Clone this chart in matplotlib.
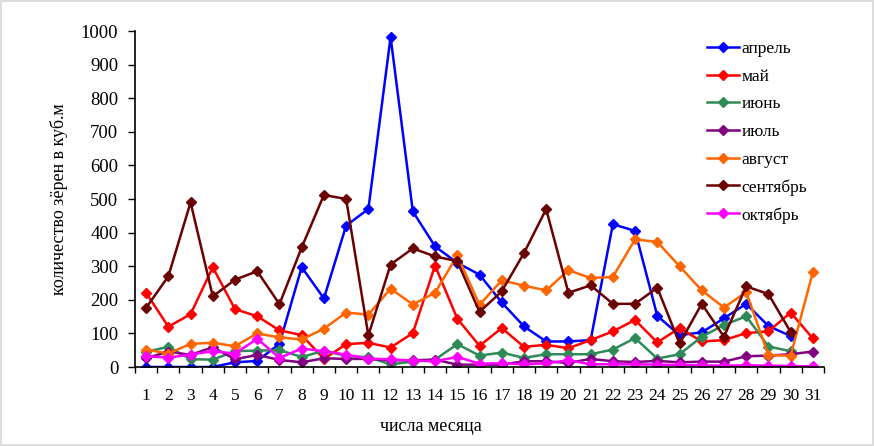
import numpy as np
import matplotlib
matplotlib.use('Agg')
import matplotlib.pyplot as plt

# days of month
days = list(range(1, 32))

# values (NaN = no point that day)
nan = np.nan
april = [0, 0, 0, 0, 14, 18, 69, 297, 204, 421, 470, 982, 463, 359, 310, 275,
         192, 121, 76, 76, 80, 425, 405, 152, 95, 103, 145, 188, 122, 92, nan]
may = [221, 120, 157, 297, 172, 151, 109, 95, 24, 68, 72, 58, 101, 302, 144, 63,
       116, 60, 66, 56, 80, 106, 140, 73, 116, 76, 80, 101, 106, 162, 85]
june = [45, 60, 23, 22, 47, 49, 50, 30, 48, 33, 29, 8, 16, 22, 68, 34,
        43, 27, 38, 38, 38, 52, 86, 25, 38, 90, 125, 151, 61, 47, nan]
july = [26, 46, 36, 59, 23, 36, 21, 14, 26, 24, 24, 20, 20, 22, 7, 7,
        7, 17, 17, 12, 24, 17, 15, 18, 14, 16, 16, 32, 34, 38, 46]
august = [52, 40, 69, 72, 62, 100, 88, 82, 114, 162, 156, 233, 186, 221, 332, 185,
          258, 242, 228, 288, 265, 268, 380, 372, 300, 228, 177, 223, 35, 34, 283]
september = [176, 270, 490, 210, 260, 285, 187, 356, 512, 500, 94, 305, 353, 329, 315, 164,
             225, 339, 470, 221, 243, 188, 188, 236, 70, 188, 90, 240, 217, 104, nan]
october = [32, 28, 37, 47, 40, 84, 27, 55, 47, 37, 25, 23, 19, 17, 30, 10,
           11, 8, 11, 20, 8, 8, 8, 7, 6, 5, 4, 5, 4, 3, 2]

series = [
  ('апрель', april, '#0000FF'),
  ('май', may, '#FF0000'),
  ('июнь', june, '#2E8B57'),
  ('июль', july, '#800080'),
  ('август', august, '#FF6600'),
  ('сентябрь', september, '#6B0000'),
  ('октябрь', october, '#FF00FF'),
]

plt.rcParams['font.family'] = ['Liberation Serif', 'DejaVu Serif']

fig = plt.figure(figsize=(8.74, 4.46), dpi=100)
ax = fig.add_axes([135/874, 1 - 367/446, (824 - 135)/874, (367 - 31)/446])

for name, vals, color in series:
  ax.plot(days, vals, color=color, lw=1.8, marker='D', ms=5.2,
          mec=color, mfc=color, label=name)

ax.set_xlim(0.5, 31.5)
ax.set_ylim(0, 1000)
ax.set_yticks(range(0, 1001, 100))
ax.set_xticks(days)
ax.set_xticks(np.arange(0.5, 32, 1), minor=True)
ax.tick_params(axis='x', which='major', length=0, pad=15, labelsize=12.5)
ax.tick_params(axis='x', which='minor', length=4, direction='out', width=1)
ax.tick_params(axis='y', length=5, direction='out', width=1, labelsize=13.5, pad=7)
for side in ['top', 'right']:
  ax.spines[side].set_visible(False)
ax.spines['left'].set_linewidth(1.2)
ax.spines['bottom'].set_linewidth(1.2)

ax.set_ylabel('количество зёрен в куб.м', fontsize=13)
ax.set_xlabel('числа месяца', fontsize=13)
ax.yaxis.set_label_coords(-0.097, 0.5)
ax.xaxis.set_label_coords(0.43, -0.152)

ax.legend(loc='upper left', bbox_to_anchor=(707/874, 1 - 41/446),
          bbox_transform=fig.transFigure, frameon=False, fontsize=12.5,
          handlelength=1.85, handletextpad=0.15, labelspacing=0.66,
          borderaxespad=0, borderpad=0)

fig.patch.set_edgecolor('#dddddd')
fig.patch.set_linewidth(1.5)

plt.savefig('out.png', dpi=100, edgecolor=fig.get_edgecolor())
